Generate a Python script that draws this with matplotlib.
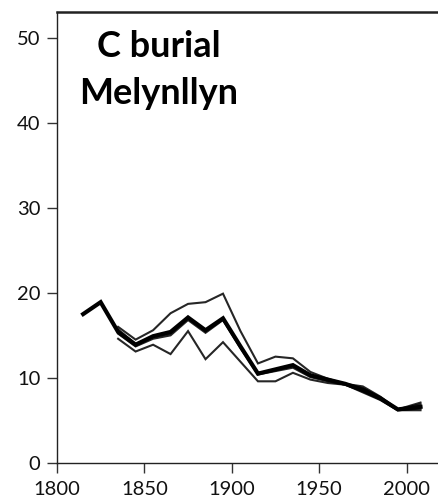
import matplotlib
matplotlib.use("Agg")
import matplotlib.pyplot as plt

# Carbon burial reconstructions, Melynllyn
years_main = [1815, 1825, 1835, 1845, 1855, 1865, 1875, 1885, 1895, 1905,
              1915, 1925, 1935, 1945, 1955, 1965, 1975, 1985, 1995, 2008]
burial_main = [17.5, 18.9, 15.4, 13.9, 14.9, 15.4, 17.1, 15.6, 17.0, 13.7,
               10.5, 11.0, 11.5, 10.3, 9.8, 9.3, 8.6, 7.6, 6.3, 6.6]

years_alt = [1835, 1845, 1855, 1865, 1875, 1885, 1895, 1905, 1915, 1925,
             1935, 1945, 1955, 1965, 1975, 1985, 1995, 2008]
burial_upper = [16.0, 14.5, 15.6, 17.6, 18.7, 18.9, 19.9, 15.5, 11.7, 12.5,
                12.3, 10.7, 9.9, 9.3, 9.0, 7.8, 6.3, 7.1]
burial_lower = [14.6, 13.1, 13.9, 12.8, 15.5, 12.2, 14.2, 11.9, 9.6, 9.6,
                10.6, 9.8, 9.4, 9.2, 8.3, 7.4, 6.2, 6.2]
burial_mid_a = [15.7, 14.0, 14.8, 15.2, 17.0, 15.5, 16.9, 13.6, 10.6, 10.9,
                11.4, 10.4, 9.7, 9.3, 8.8, 7.7, 6.3, 6.9]
burial_mid_b = [15.2, 13.7, 14.6, 15.0, 16.8, 15.3, 16.8, 13.5, 10.4, 10.8,
                11.2, 10.1, 9.6, 9.2, 8.4, 7.5, 6.2, 6.4]

x_ticks = [1800, 1850, 1900, 1950, 2000]
y_ticks = [0, 10, 20, 30, 40, 50]
title_lines = ["C burial", "Melynllyn"]

plt.rcParams['font.family'] = ['Lato', 'DejaVu Sans']

fig = plt.figure(figsize=(4.38, 5.0), dpi=100)
ax = fig.add_axes([0.130, 0.074, 0.870, 0.902])

for vals in (burial_upper, burial_lower, burial_mid_a, burial_mid_b):
    ax.plot(years_alt, vals, color='black', lw=1.5, alpha=0.85,
            solid_joinstyle='miter')
ax.plot(years_main, burial_main, color='black', lw=3.0, solid_joinstyle='miter')

ax.set_xlim(1800, 2018)
ax.set_ylim(0, 53)
ax.set_xticks(x_ticks)
ax.set_yticks(y_ticks)
ax.tick_params(direction='out', length=7, width=1, colors='#333333',
               labelsize=14.5, labelcolor='#111111', pad=5)
ax.tick_params(axis='x', pad=6)

for side in ('left', 'bottom'):
    ax.spines[side].set_linewidth(1.0)
    ax.spines[side].set_color('#222222')
ax.spines['top'].set_linewidth(1.8)
ax.spines['top'].set_color('#222222')
ax.spines['right'].set_visible(False)

for line, y in zip(title_lines, (0.900, 0.796)):
    ax.text(0.268, y, line, transform=ax.transAxes, ha='center',
            va='baseline', fontsize=26, fontweight='bold')

fig.savefig("out.png", dpi=100)
